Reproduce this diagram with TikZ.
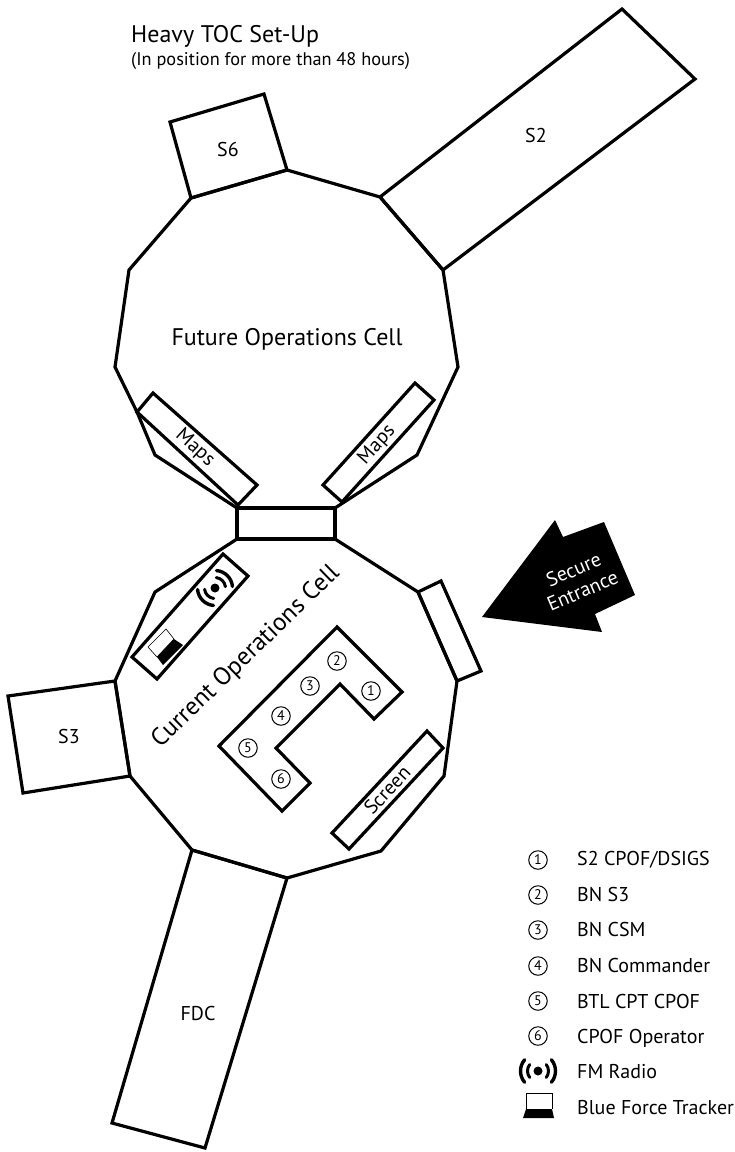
\documentclass[tikz,border=0pt]{standalone}
\usepackage{fontspec}
\setmainfont{PT Sans}
\usepackage{tikz}
\usetikzlibrary{calc}

\begin{document}
\begin{tikzpicture}[x=1pt,y=-1pt,wall/.style={draw=black,line width=3.2pt,line join=miter,fill=white},
	room/.style={font=\fontsize{20}{23}\selectfont},
	cell/.style={font=\fontsize{24}{27}\selectfont},
	seat/.style={circle,draw=black,line width=1pt,inner sep=0pt,minimum size=18.5pt,font=\fontsize{14}{14}\selectfont},
	legend/.style={anchor=base west,inner sep=0pt,font=\fontsize{20}{23}\selectfont},
	pics/radioicon/.style={code={
		\fill (0,0) circle (4.5);
		\draw[line width=3pt,line cap=round] (-38:10.5) arc (-38:38:10.5);
		\draw[line width=3pt,line cap=round] (142:10.5) arc (142:218:10.5);
		\draw[line width=3.4pt,line cap=round] (-40:17.5) arc (-40:40:17.5);
		\draw[line width=3.4pt,line cap=round] (140:17.5) arc (140:220:17.5);
	}}]
		\useasboundingbox (0,0) rectangle (735,1152);

		\draw[wall] (191,198) -- (170,122) -- (264,94) -- (287,170) -- cycle;
		\draw[wall] (380,197) -- (622,9) -- (695,79) -- (443,270) -- cycle;
		\draw[wall] (115,681) -- (8,696) -- (23,793) -- (130,776) -- cycle;
		\draw[wall] (192,850) -- (287,878) -- (205,1148) -- (112,1123) -- cycle;
		\draw[wall] (418,592) -- (441,581) -- (481,671) -- (457,681) -- cycle;

		\draw[wall,fill=none] (237,508) -- (155,455) -- (137,412) -- (115,367) -- (129,270) -- (191,198) -- (287,170) -- (380,197) -- (443,270) -- (458,367) -- (417,455) -- (335,508);
		\draw[wall,fill=none] (237,539) -- (155,592) -- (115,681) -- (130,776) -- (192,850) -- (287,878) -- (381,851) -- (444,776) -- (457,681) -- (418,592) -- (335,539);
		\draw[wall] (237,508) rectangle (335,539);

		\draw[wall] (137,412) -- (153,393) -- (257,485) -- (238,505) -- cycle;
		\draw[wall] (415,383) -- (434,400) -- (342,502) -- (323,485) -- cycle;
		\draw[wall] (223,554) -- (248,576) -- (157,679) -- (132,657) -- cycle;
		\draw[wall] (427,731) -- (443,748) -- (349,849) -- (332,833) -- cycle;
		\draw[wall] (337,627) -- (402,692) -- (374,719) -- (340,684) -- (276,748) -- (310,783) -- (282,811) -- (219,746) -- cycle;

		\draw[fill=white,line width=0.6pt] (166,629) -- (148,647) -- (157,657) -- (174,639) -- cycle;
		\fill (174,639) -- (157,657) -- (163,665) -- (183,645) -- cycle;
		\pic[rotate=45] at (215,588) {radioicon};

		\fill (482,617) -- (555,520) -- (563,537) -- (604,522) -- (635,595) -- (595,614) -- (602,632) -- cycle;
		\node[rotate=23,align=center,text=white,font=\fontsize{20}{23}\selectfont] (entrance) at (578,580) {Secure\\Entrance};

		\node[anchor=base west,inner sep=0pt,font=\fontsize{24}{27}\selectfont] (title) at (131,42) {Heavy TOC Set-Up};
		\node[anchor=base west,inner sep=0pt,font=\fontsize{18.3}{20}\selectfont] (subtitle) at (131,65) {(In position for more than 48 hours)};

		\node[room] (s6) at (228,149) {S6};
		\node[room] (s2) at (536,135) {S2};
		\node[room] (s3) at (69,736) {S3};
		\node[room] (fdc) at (198,1013) {FDC};
		\node[room,rotate=-42] (mapsl) at (195,448) {Maps};
		\node[room,rotate=48] (mapsr) at (377,445) {Maps};
		\node[room,rotate=47] (screen) at (387,790) {Screen};
		\node[cell] (future) at (287,339) {Future Operations Cell};
		\node[cell,font=\fontsize{25}{28}\selectfont,rotate=44] (current) at (246,657) {Current Operations Cell};

		\node[seat] (n1) at (371,691) {1};
		\node[seat] (n2) at (337,661) {2};
		\node[seat] (n3) at (310,686) {3};
		\node[seat] (n4) at (281,716) {4};
		\node[seat] (n5) at (248,748) {5};
		\node[seat] (n6) at (281,779) {6};

		\node[seat] (k1) at (538,860) {1};
		\node[seat] (k2) at (538,895) {2};
		\node[seat] (k3) at (538,930) {3};
		\node[seat] (k4) at (538,966) {4};
		\node[seat] (k5) at (538,1001) {5};
		\node[seat] (k6) at (538,1036) {6};
		\node[legend] (l1) at (577,865) {S2 CPOF/DSIGS};
		\node[legend] (l2) at (577,901) {BN S3};
		\node[legend] (l3) at (577,936) {BN CSM};
		\node[legend] (l4) at (577,972) {BN Commander};
		\node[legend] (l5) at (577,1008) {BTL CPT CPOF};
		\node[legend] (l6) at (577,1043) {CPOF Operator};
		\node[legend] (l7) at (577,1078) {FM Radio};
		\node[legend] (l8) at (577,1114) {Blue Force Tracker};

		\pic at (538,1071) {radioicon};
		\draw[line width=0.8pt] (526,1109) -- (526,1093) -- (552,1093) -- (552,1109);
		\fill (526,1109) -- (552,1109) -- (554,1118) -- (523,1118) -- cycle;
\end{tikzpicture}
\end{document}
